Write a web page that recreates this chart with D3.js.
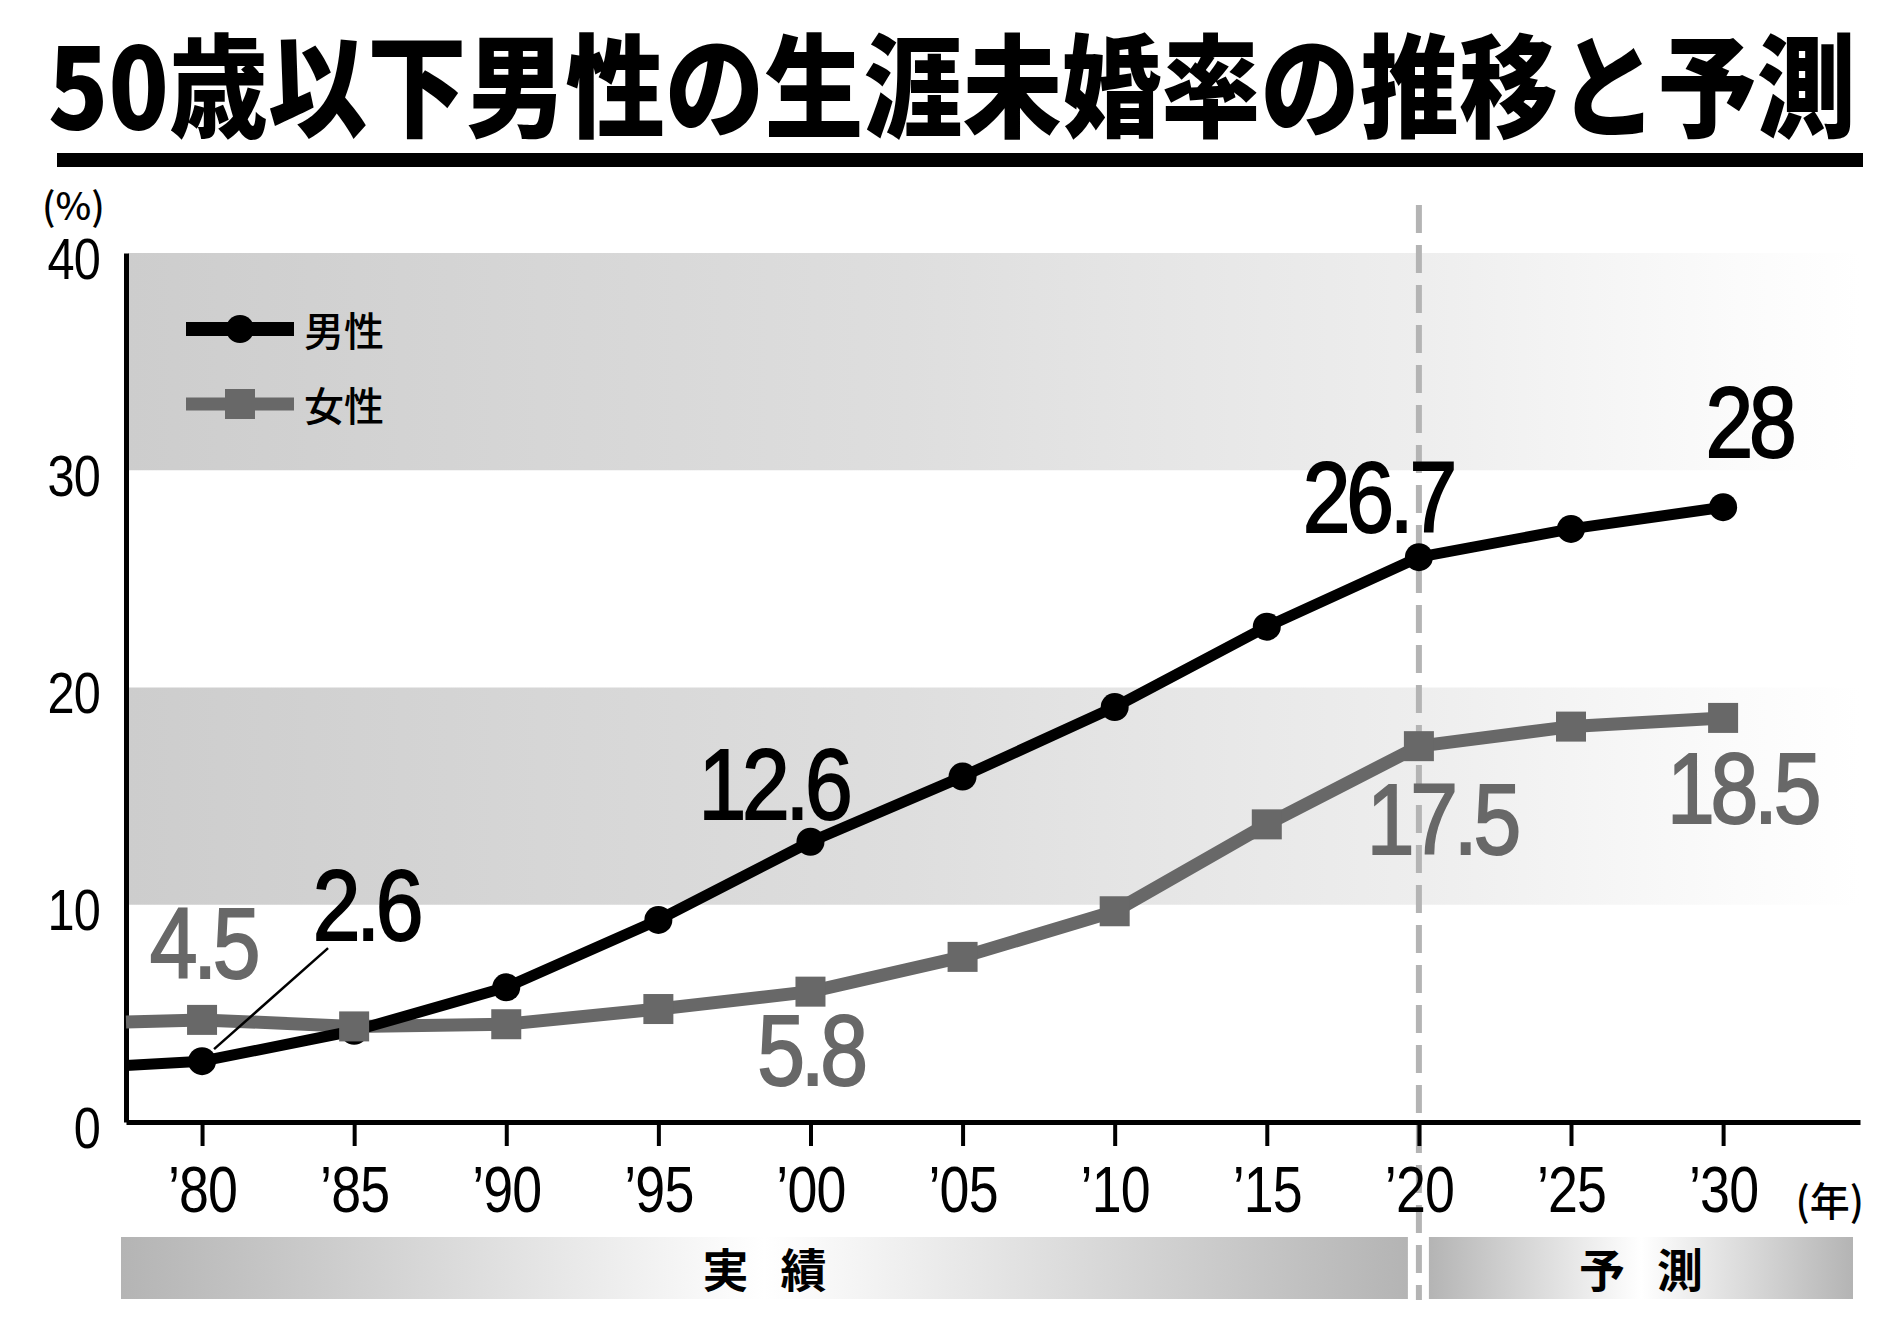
<!DOCTYPE html>
<html>
<head>
<meta charset="utf-8">
<script src="https://cdn.jsdelivr.net/npm/d3@7"></script>
<style>
  html, body { margin: 0; padding: 0; background: #fff; }
  svg { display: block; }
</style>
</head>
<body>
<svg id="chart" width="1900" height="1327"></svg>
<script>
// ---------------- DATA ----------------
const titleText = "50歳以下男性の生涯未婚率の推移と予測";
const years = [1980, 1985, 1990, 1995, 2000, 2005, 2010, 2015, 2020, 2025, 2030];
const xTickLabels = ["’80", "’85", "’90", "’95", "’00", "’05", "’10", "’15", "’20", "’25", "’30"];
const maleValues = [2.8, 4.2, 6.2, 9.3, 12.9, 15.9, 19.1, 22.8, 26.0, 27.3, 28.3];
const femaleValues = [4.7, 4.4, 4.5, 5.2, 6.0, 7.6, 9.7, 13.7, 17.3, 18.2, 18.6];
const lineStartYear = 1977.5;      // lines run in from the left edge of the plot
const maleStartValue = 2.6;
const femaleStartValue = 4.6;
const yTicks = [0, 10, 20, 30, 40];
const bandRanges = [[10, 20], [30, 40]];
const forecastStartYear = 2020;
const seriesNames = ["男性", "女性"];
const maleLabelYears = [1980, 2000, 2020, 2030];
const maleLabelTexts = ["2.6", "12.6", "26.7", "28"];
const femaleLabelYears = [1980, 2000, 2020, 2030];
const femaleLabelTexts = ["4.5", "5.8", "17.5", "18.5"];
const periodNames = ["実績", "予測"];

// ---------------- LAYOUT ----------------
const svg = d3.select("#chart");
const BLACK = "#000", GRAY = "#686868";
const NUM_FONT = "'Liberation Sans', Arial, Helvetica, sans-serif";
const JP_FONT = "'Noto Sans CJK JP', 'Noto Sans CJK SC', sans-serif";

const x = d3.scaleLinear().domain([1977.5, 2034.5]).range([126, 1860]);
const y = d3.scaleLinear().domain([0, 40]).range([1122, 253]);

function condensedText(parent, px, py, str, o) {
  const g = parent.append("g").attr("transform", `translate(${px},${py}) scale(${o.sx || 1},1)`);
  return g.append("text").text(str)
    .attr("font-family", o.family || NUM_FONT)
    .attr("font-size", o.size)
    .attr("font-weight", o.weight || "normal")
    .attr("fill", o.fill || BLACK)
    .attr("stroke", o.stroke ? (o.fill || BLACK) : "none")
    .attr("stroke-width", o.stroke || 0)
    .attr("text-anchor", o.anchor || "start")
    .attr("letter-spacing", o.ls || 0)
    .attr("dominant-baseline", o.baseline || "alphabetic");
}

const defs = svg.append("defs");
const bandGrad = defs.append("linearGradient").attr("id", "bandGrad")
  .attr("x1", "0").attr("x2", "1").attr("y1", "0").attr("y2", "0");
[[0, "#cdcdcd"], [0.45, "#dedede"], [0.75, "#eeeeee"], [0.93, "#fbfbfb"], [1, "#ffffff"]]
  .forEach(([o, c]) => bandGrad.append("stop").attr("offset", o).attr("stop-color", c));
const barGrad = defs.append("linearGradient").attr("id", "barGrad")
  .attr("x1", "0").attr("x2", "1").attr("y1", "0").attr("y2", "0");
[[0, "#b4b4b4"], [0.5, "#ffffff"], [1, "#b4b4b4"]]
  .forEach(([o, c]) => barGrad.append("stop").attr("offset", o).attr("stop-color", c));

// Title (condensed heavy gothic)
const titleG = svg.append("g").attr("transform", "translate(48,80) scale(1,1.12)");
titleG.append("text").text(titleText)
  .attr("x", 0).attr("y", 0)
  .attr("font-family", JP_FONT).attr("font-weight", 900).attr("font-size", 100)
  .attr("dominant-baseline", "central")
  .attr("textLength", 1808).attr("lengthAdjust", "spacingAndGlyphs");
svg.append("rect").attr("x", 57).attr("y", 153).attr("width", 1806).attr("height", 14).attr("fill", BLACK);

// Bands
svg.append("g").selectAll("rect").data(bandRanges).join("rect")
  .attr("x", x.range()[0] + 2)
  .attr("width", x.range()[1] - x.range()[0] - 2)
  .attr("y", d => y(d[1]))
  .attr("height", d => y(d[0]) - y(d[1]))
  .attr("fill", "url(#bandGrad)");

// Period bars
const periodExtents = [[x.range()[0] - 5, x(forecastStartYear) - 11], [x(forecastStartYear) + 10, x(2034.5) - 7]];
const periodG = svg.append("g");
periodExtents.forEach((ext, i) => {
  periodG.append("rect").attr("x", ext[0]).attr("y", 1237).attr("width", ext[1] - ext[0]).attr("height", 62)
    .attr("fill", "url(#barGrad)");
  const chars = periodNames[i].split("");
  const cx = (ext[0] + ext[1]) / 2;
  chars.forEach((c, j) => {
    periodG.append("text").text(c)
      .attr("x", cx + (j - (chars.length - 1) / 2) * 78).attr("y", 1267)
      .attr("font-family", JP_FONT).attr("font-weight", 700).attr("font-size", 46)
      .attr("text-anchor", "middle").attr("dominant-baseline", "central");
  });
});

// Dashed forecast line
svg.append("line")
  .attr("x1", x(forecastStartYear)).attr("x2", x(forecastStartYear))
  .attr("y1", 205).attr("y2", 1300)
  .attr("stroke", "#b4b4b4").attr("stroke-width", 6).attr("stroke-dasharray", "28 12");

// Axes
const xAxis = d3.axisBottom(x).tickValues(years).tickSize(24).tickSizeOuter(0)
  .tickFormat((d, i) => xTickLabels[i]);
const xg = svg.append("g").attr("transform", `translate(0,${y(0)})`).call(xAxis);
xg.select(".domain").attr("stroke", BLACK).attr("stroke-width", 5);
xg.selectAll(".tick line").attr("stroke", BLACK).attr("stroke-width", 4);
xg.selectAll(".tick text")
  .attr("y", 90).attr("dy", null)
  .attr("transform", "scale(0.84,1)")
  .attr("letter-spacing", -1)
  .attr("font-family", NUM_FONT).attr("font-size", 64).attr("fill", BLACK);

const yAxis = d3.axisLeft(y).tickValues(yTicks).tickSize(0).tickSizeOuter(0).tickFormat(d3.format("d"));
const yg = svg.append("g").attr("transform", `translate(${x.range()[0]},0)`).call(yAxis);
yg.select(".domain").attr("stroke", BLACK).attr("stroke-width", 5);
yg.selectAll(".tick text")
  .attr("x", -26 / 0.84).attr("dy", 25)
  .attr("transform", "scale(0.84,1)")
  .attr("letter-spacing", -1)
  .attr("font-family", NUM_FONT).attr("font-size", 58).attr("fill", BLACK);

// Unit labels
svg.append("text").text("(%)").attr("x", 42).attr("y", 203)
  .attr("font-family", JP_FONT).attr("font-size", 38).attr("font-weight", 500)
  .attr("dominant-baseline", "central");
svg.append("text").text("(年)").attr("x", 1864).attr("y", 1199)
  .attr("font-family", JP_FONT).attr("font-size", 40).attr("font-weight", 500)
  .attr("text-anchor", "end").attr("dominant-baseline", "central");

// Lines
const line = d3.line().x(d => x(d[0])).y(d => y(d[1]));
const malePts = [[lineStartYear, maleStartValue]].concat(years.map((yr, i) => [yr, maleValues[i]]));
const femalePts = [[lineStartYear, femaleStartValue]].concat(years.map((yr, i) => [yr, femaleValues[i]]));

svg.append("path").datum(femalePts).attr("d", line)
  .attr("fill", "none").attr("stroke", GRAY).attr("stroke-width", 13).attr("stroke-linejoin", "round");
svg.append("path").datum(malePts).attr("d", line)
  .attr("fill", "none").attr("stroke", BLACK).attr("stroke-width", 11).attr("stroke-linejoin", "round");

svg.append("g").selectAll("circle").data(years).join("circle")
  .attr("cx", d => x(d)).attr("cy", (d, i) => y(maleValues[i])).attr("r", 14).attr("fill", BLACK);
svg.append("g").selectAll("rect").data(years).join("rect")
  .attr("x", d => x(d) - 15).attr("y", (d, i) => y(femaleValues[i]) - 15)
  .attr("width", 30).attr("height", 30).attr("fill", GRAY);

// Legend
const legend = svg.append("g");
[[329, BLACK, 14, "circle"], [404, GRAY, 13, "square"]].forEach(([ly, col, sw, shape], i) => {
  legend.append("line").attr("x1", 186).attr("x2", 294).attr("y1", ly).attr("y2", ly)
    .attr("stroke", col).attr("stroke-width", sw);
  if (shape === "circle") legend.append("circle").attr("cx", 240).attr("cy", ly).attr("r", 14).attr("fill", col);
  else legend.append("rect").attr("x", 225).attr("y", ly - 15).attr("width", 30).attr("height", 30).attr("fill", col);
  legend.append("text").text(seriesNames[i]).attr("x", 304).attr("y", ly)
    .attr("font-family", JP_FONT).attr("font-size", 40).attr("font-weight", 500)
    .attr("dominant-baseline", "central");
});

// Value labels (offsets from their point: layout only)
const maleLabelOffsets = [[164, -121], [-37, -23], [-41, -25], [26, -50]];
const femaleLabelOffsets = [[1, -42], [0, 93], [23, 108], [19, 105]];
const lblG = svg.append("g");
const lblStyle = { size: 101, sx: 0.85, anchor: "middle", ls: -5, weight: "normal", stroke: 2 };
maleLabelYears.forEach((yr, i) => {
  const v = maleValues[years.indexOf(yr)];
  condensedText(lblG, x(yr) + maleLabelOffsets[i][0], y(v) + maleLabelOffsets[i][1], maleLabelTexts[i],
    Object.assign({}, lblStyle, { fill: BLACK }));
});
femaleLabelYears.forEach((yr, i) => {
  const v = femaleValues[years.indexOf(yr)];
  condensedText(lblG, x(yr) + femaleLabelOffsets[i][0], y(v) + femaleLabelOffsets[i][1], femaleLabelTexts[i],
    Object.assign({}, lblStyle, { fill: GRAY }));
});

// Leader line for the 1980 male label
const lead0 = [x(1980), y(maleValues[0])];
svg.append("line")
  .attr("x1", lead0[0] + 12).attr("y1", lead0[1] - 12)
  .attr("x2", lead0[0] + 126).attr("y2", lead0[1] - 113)
  .attr("stroke", BLACK).attr("stroke-width", 2.5);
</script>
</body>
</html>
